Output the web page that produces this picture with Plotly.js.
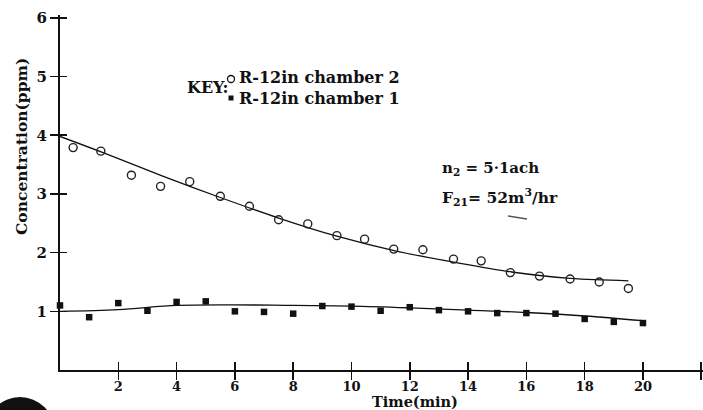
<!DOCTYPE html>
<html>
<head>
<meta charset="utf-8">
<script src="https://cdn.plot.ly/plotly-3.0.1.min.js"></script>
<style>html,body{margin:0;padding:0;background:#fff;}#chart{width:703px;height:410px;}</style>
</head>
<body>
<div id="chart"></div>
<script>
// Chamber 2 (open circles) measured
const tChamber2 = [0.45,1.4,2.45,3.45,4.45,5.5,6.5,7.5,8.5,9.5,10.45,11.45,12.45,13.5,14.45,15.45,16.45,17.5,18.5,19.5];
const cChamber2 = [3.79,3.73,3.32,3.13,3.21,2.96,2.79,2.56,2.49,2.29,2.23,2.06,2.05,1.89,1.86,1.66,1.60,1.55,1.50,1.39];
// Chamber 1 (filled squares) measured
const tChamber1 = [0,1,2,3,4,5,6,7,8,9,10,11,12,13,14,15,16,17,18,19,20];
const cChamber1 = [1.10,0.90,1.14,1.01,1.16,1.17,1.00,0.99,0.96,1.09,1.08,1.01,1.07,1.02,1.00,0.97,0.97,0.96,0.87,0.82,0.80];
// Fitted curves
const tFit2 = [0,1.5,3.5,5.5,7.5,9.5,11.5,13.5,15.5,17.5,19.5];
const cFit2 = [3.98,3.70,3.31,2.94,2.59,2.28,2.03,1.84,1.67,1.56,1.52];
const tFit1 = [0,2,4,6,8,10,12,14,16,18,20];
const cFit1 = [1.0,1.03,1.10,1.11,1.10,1.09,1.06,1.02,0.98,0.92,0.84];
// Ticks
const xTickVals = [2,4,6,8,10,12,14,16,18,20,22];
const xTickText = ['2','4','6','8','10','12','14','16','18','20',''];
const yTickVals = [1,2,3,4,5,6];
const yTickText = ['1','2','3','4','5','6'];

const L = 60, R = 0, T = 15, B = 40, WW = 703, HH = 410;
const PW = WW - L - R, PH = HH - T - B;
const px = v => (v - L) / PW;      // pixel x -> paper
const py = v => (HH - B - v) / PH; // pixel y -> paper

const FONT = 'DejaVu Serif';
const traces = [
  {x: tFit2, y: cFit2, mode: 'lines', line: {color: '#111', width: 1.3, shape: 'spline', smoothing: 1}, hoverinfo: 'skip'},
  {x: tFit1, y: cFit1, mode: 'lines', line: {color: '#111', width: 1.3, shape: 'spline', smoothing: 1}, hoverinfo: 'skip'},
  {x: tChamber2, y: cChamber2, mode: 'markers', cliponaxis: false,
   marker: {symbol: 'circle-open', size: 8, color: '#222', line: {width: 1.4, color: '#222'}}},
  {x: tChamber1, y: cChamber1, mode: 'markers', cliponaxis: false,
   marker: {symbol: 'square', size: 6.5, color: '#111'}},
  {x: [null], y: [null], xaxis: 'x2', yaxis: 'y2', mode: 'markers', hoverinfo: 'skip'}
];

const axisCommon = {showgrid: false, zeroline: false, tickcolor: '#111', tickwidth: 1.6};
const layout = {
  width: WW, height: HH,
  margin: {l: L, r: R, t: T, b: B, pad: 0},
  paper_bgcolor: '#fff', plot_bgcolor: '#fff',
  showlegend: false,
  xaxis: Object.assign({}, axisCommon, {
    range: [0, 22.06], tickvals: xTickVals, ticktext: xTickText,
    ticks: 'outside', ticklen: 8, showline: true, linewidth: 2, linecolor: '#111',
    ticklabelstandoff: -5,
    tickfont: {family: FONT, size: 13, color: '#111', weight: 700}
  }),
  yaxis: Object.assign({}, axisCommon, {
    range: [0, 6.05], tickvals: yTickVals, ticktext: yTickText,
    ticks: 'outside', ticklen: 8, showline: true, linewidth: 2, linecolor: '#111',
    tickfont: {family: FONT, size: 15, color: '#111', weight: 700}
  }),
  xaxis2: Object.assign({}, axisCommon, {
    overlaying: 'x', anchor: 'y', side: 'bottom', range: [0, 22.06], tickvals: xTickVals,
    ticks: 'inside', ticklen: 8, showticklabels: false, showline: false
  }),
  yaxis2: Object.assign({}, axisCommon, {
    overlaying: 'y', anchor: 'x', side: 'left', range: [0, 6.05], tickvals: yTickVals,
    ticks: 'inside', ticklen: 7, showticklabels: false, showline: false
  }),
  annotations: [
    {text: 'KEY:', xref: 'paper', yref: 'paper', x: px(185), y: py(88), xanchor: 'left', yanchor: 'middle', showarrow: false,
     font: {family: FONT, size: 16, color: '#111', weight: 700}},
    {text: 'R-12in chamber 2', xref: 'paper', yref: 'paper', x: px(237), y: py(77), xanchor: 'left', yanchor: 'middle', showarrow: false,
     font: {family: FONT, size: 16, color: '#111', weight: 700}},
    {text: 'R-12in chamber 1', xref: 'paper', yref: 'paper', x: px(237), y: py(98), xanchor: 'left', yanchor: 'middle', showarrow: false,
     font: {family: FONT, size: 16, color: '#111', weight: 700}},
    {text: 'n<sub>2</sub> = 5·1ach', xref: 'paper', yref: 'paper', x: px(440), y: py(168), xanchor: 'left', yanchor: 'middle', showarrow: false,
     font: {family: FONT, size: 15, color: '#111', weight: 700}},
    {text: 'F<sub>21</sub>= 52m<sup>3</sup>/hr', xref: 'paper', yref: 'paper', x: px(440), y: py(197), xanchor: 'left', yanchor: 'middle', showarrow: false,
     font: {family: FONT, size: 15.5, color: '#111', weight: 700}},
    {text: 'Time(min)', xref: 'paper', yref: 'paper', x: px(415), y: py(401.5), xanchor: 'center', yanchor: 'middle', showarrow: false,
     font: {family: FONT, size: 14.5, color: '#111', weight: 700}},
    {text: 'Concentration(ppm)', xref: 'paper', yref: 'paper', x: px(22), y: py(147), xanchor: 'center', yanchor: 'middle', showarrow: false, textangle: -90,
     font: {family: FONT, size: 15.5, color: '#111', weight: 700}}
  ],
  shapes: [
    // key symbols
    {type: 'circle', xref: 'paper', yref: 'paper', x0: px(227.5), x1: px(234.5), y0: py(82.5), y1: py(75.5), line: {color: '#111', width: 1.3}},
    {type: 'rect', xref: 'paper', yref: 'paper', x0: px(228.5), x1: px(233.5), y0: py(100.5), y1: py(95.5), fillcolor: '#111', line: {width: 0}},
    // scan artefacts
    {type: 'circle', xref: 'paper', yref: 'paper', x0: px(-14.5), x1: px(54.5), y0: py(466), y1: py(397), fillcolor: '#111', line: {width: 0}},
    {type: 'line', xref: 'paper', yref: 'paper', x0: px(508), x1: px(527), y0: py(216), y1: py(219), line: {color: '#555', width: 1.5}}
  ]
};

Plotly.newPlot('chart', traces, layout, {staticPlot: true, displayModeBar: false});
</script>
</body>
</html>
